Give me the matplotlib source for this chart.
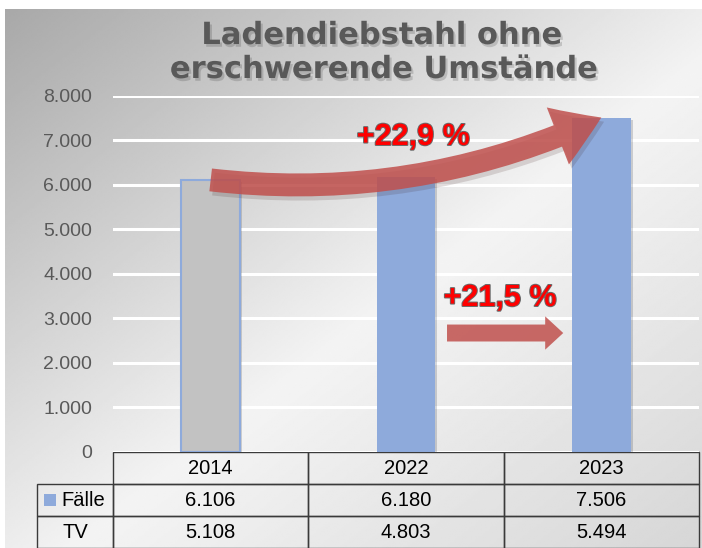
#!/usr/bin/env python3

import numpy as np
import matplotlib
matplotlib.use("Agg")
import matplotlib.pyplot as plt
import matplotlib.patheffects as pe
from matplotlib.patches import FancyArrowPatch, ArrowStyle, Rectangle
from matplotlib.ticker import FuncFormatter


##### data #####
YEARS = ["2014", "2022", "2023"]
FAELLE = [6106, 6180, 7506]
TV = [5108, 4803, 5494]
ROW_LABELS = ["Fälle", "TV"]

TITLE_1 = "Ladendiebstahl ohne"
TITLE_2 = "erschwerende Umstände"


##### style #####
BLUE = "#8eaadb"
GREY_BAR = "#c2c2c2"
ARROW_RED = "#c0504d"
TEXT_GREY = "#595959"

plt.rcParams["font.family"] = ["Liberation Sans", "DejaVu Sans"]


def de_num(v):
    return f"{v:,.0f}".replace(",", ".")


def de_pct(a, b):
    p = (b - a) / a * 100
    return "+" + f"{p:.1f}".replace(".", ",") + " %"


fig = plt.figure(figsize=(7.02, 5.48), dpi=100)
W, H = 702, 548

##### background gradient #####
bg = fig.add_axes([5 / W, 0, 1 - 5 / W, 539 / H], zorder=-10)
bg.axis("off")
u = np.linspace(0, 1, 400)
v = np.linspace(0, 1, 300)
U, V = np.meshgrid(u, v)
t = (U + V) / 2
shade = np.interp(t, [0.0, 0.55, 1.0], [0.66, 0.955, 0.84])
bg.imshow(shade, cmap="gray", vmin=0, vmax=1, aspect="auto",
          extent=[0, 1, 0, 1], interpolation="bilinear")
bg.set_xlim(0, 1)
bg.set_ylim(0, 1)

##### main axes #####
ax = fig.add_axes([113 / W, 96 / H, 586 / W, 356.5 / H])
ax.set_facecolor("none")

x = np.arange(len(YEARS))
colors = [GREY_BAR, BLUE, BLUE]
bars = ax.bar(x, FAELLE, width=0.3, color=colors, zorder=3)
bars[0].set_edgecolor(BLUE)
bars[0].set_linewidth(1.5)
for b in bars:
    b.set_path_effects([pe.withSimplePatchShadow(offset=(1.5, -1.5), alpha=0.2)])

ax.set_xlim(-0.5, 2.5)
ax.set_ylim(0, 8000)
ax.set_yticks(np.arange(0, 8001, 1000))
ax.yaxis.set_major_formatter(FuncFormatter(lambda val, pos: de_num(val)))
ax.tick_params(axis="y", length=0, pad=15, labelsize=14, labelcolor=TEXT_GREY)
ax.set_xticks([])
ax.grid(axis="y", color="white", linewidth=2.2, zorder=0)
ax.set_axisbelow(True)
for s in ax.spines.values():
    s.set_visible(False)

##### table below the axes #####
cell_text = [[""] + YEARS,
             [ROW_LABELS[0]] + [de_num(val) for val in FAELLE],
             [ROW_LABELS[1]] + [de_num(val) for val in TV]]
lab_w = 76 / 586
tab = ax.table(cellText=cell_text, cellLoc="center",
               colWidths=[lab_w, 1 / 3, 1 / 3, 1 / 3],
               bbox=[-lab_w, -96 / 356.5, 1 + lab_w, 96 / 356.5])
tab.auto_set_font_size(False)
tab.set_fontsize(14.5)
for (r, c), cell in tab.get_celld().items():
    cell.set_facecolor("none")
    cell.set_edgecolor("#3a3a3a")
    cell.set_linewidth(1.0)
tab[0, 0].visible_edges = "open"
tab[1, 0].get_text().set_ha("right")

# legend key in front of "Fälle"
ax.add_patch(Rectangle((-69 / 586, -54 / 356.5), 12 / 586, 12 / 356.5,
                       transform=ax.transAxes, facecolor=BLUE,
                       edgecolor="none", clip_on=False, zorder=5))

##### arrows #####
curved = FancyArrowPatch(
    (x[0], FAELLE[0]), (x[2], FAELLE[2]),
    connectionstyle="arc3,rad=0.14",
    arrowstyle=ArrowStyle("Simple", head_length=34, head_width=44, tail_width=16.5),
    mutation_scale=1, shrinkA=0, shrinkB=0,
    color=ARROW_RED, alpha=0.85, linewidth=0, zorder=4,
)
curved.set_path_effects([pe.withSimplePatchShadow(offset=(2, -3), alpha=0.15)])
ax.add_patch(curved)

straight = FancyArrowPatch(
    (1.21, 2670), (1.805, 2670),
    arrowstyle=ArrowStyle("Simple", head_length=13, head_width=24, tail_width=12.2),
    mutation_scale=1, shrinkA=0, shrinkB=0,
    color=ARROW_RED, alpha=0.85, linewidth=0, zorder=4,
)
ax.add_patch(straight)

outline = [pe.withStroke(linewidth=1.4, foreground="#6a6a6a")]
ax.text(1.036, 7069, de_pct(FAELLE[0], FAELLE[2]), ha="center", va="center",
        fontsize=22, fontweight="bold", color="#ff0000",
        path_effects=outline, zorder=6)
ax.text(1.481, 3456, de_pct(FAELLE[1], FAELLE[2]), ha="center", va="center",
        fontsize=22, fontweight="bold", color="#ff0000",
        path_effects=outline, zorder=6)

##### title #####
title_fx = [pe.withSimplePatchShadow(offset=(1.5, -2), shadow_rgbFace="black", alpha=0.15)]
fig.text(381 / W, 1 - 44 / H, TITLE_1, ha="center", va="baseline",
         fontsize=22, fontweight="bold", family="DejaVu Sans",
         color=TEXT_GREY, path_effects=title_fx)
fig.text(383 / W, 1 - 78 / H, TITLE_2, ha="center", va="baseline",
         fontsize=22, fontweight="bold", family="DejaVu Sans",
         color=TEXT_GREY, path_effects=title_fx)

fig.savefig("out.png", dpi=100)
